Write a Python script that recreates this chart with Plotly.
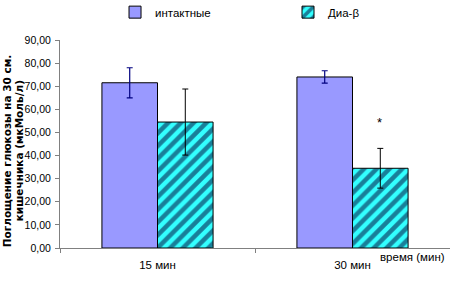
import plotly.graph_objects as go

categories = ["15 мин", "30 мин"]
intact_vals = [71.5, 74.0]
intact_err = [6.5, 2.7]
dia_vals = [54.5, 34.5]
dia_err = [14.3, 8.6]
y_ticks = [0, 10, 20, 30, 40, 50, 60, 70, 80, 90]
y_title_lines = ["Поглощение глюкозы на 30 см.", "кишечника (мкМоль/л)"]

FONT = "Liberation Sans, Arial"

fig = go.Figure()
fig.add_trace(go.Bar(
    x=categories, y=intact_vals, name="интактные",
    marker=dict(color="#9999FF", line=dict(color="black", width=1)),
    error_y=dict(type="data", array=intact_err, color="#000080", thickness=1.2, width=3),
    legend="legend",
))
fig.add_trace(go.Bar(
    x=categories, y=dia_vals, name="Диа-β",
    marker=dict(color="#33FFFF", line=dict(color="black", width=1),
                pattern=dict(shape="/", bgcolor="#33FFFF", fgcolor="#000033",
                             size=9, solidity=0.5, fillmode="overlay")),
    error_y=dict(type="data", array=dia_err, color="black", thickness=1, width=3),
    legend="legend2",
))

fig.add_annotation(x=categories[1], y=dia_vals[1] + dia_err[1], xshift=27, yshift=26,
                   text="*", showarrow=False, font=dict(size=13, color="black", family=FONT))
fig.add_annotation(xref="paper", yref="paper", x=1, y=0, xanchor="right", yanchor="top",
                   xshift=-3, yshift=-1, text="время (мин)", showarrow=False,
                   font=dict(size=11.5, color="black", family=FONT))
for i, line in enumerate(y_title_lines):
    fig.add_annotation(xref="paper", yref="paper", x=0, y=0.465, xanchor="center",
                       yanchor="middle", xshift=-53 + 12 * i, textangle=-90,
                       text=line, showarrow=False,
                       font=dict(size=10.5, color="black", family="DejaVu Sans", weight="bold"))

fig.update_layout(
    width=450, height=282,
    margin=dict(l=60, r=0, t=40, b=34, autoexpand=False),
    paper_bgcolor="white", plot_bgcolor="white",
    barmode="group", bargap=0.43, bargroupgap=0,
    separators=", ",
    font=dict(family=FONT, size=11.5, color="black"),
    legend=dict(orientation="h", xref="container", yref="container",
                x=0.2556, y=0.957, xanchor="left", yanchor="middle",
                font=dict(size=11.5, family=FONT), bgcolor="rgba(0,0,0,0)"),
    legend2=dict(orientation="h", xref="container", yref="container",
                 x=0.64, y=0.957, xanchor="left", yanchor="middle",
                 font=dict(size=11.5, family=FONT), bgcolor="rgba(0,0,0,0)"),
    xaxis=dict(showline=True, linecolor="#808080", linewidth=1, ticks="outside",
               tickson="boundaries", ticklen=4, tickcolor="#808080",
               ticklabelstandoff=6, showgrid=False, automargin=False,
               tickfont=dict(size=11.5, family=FONT)),
    yaxis=dict(range=[0, 90], tickvals=y_ticks, tickformat=".2f",
               showline=True, linecolor="#808080", linewidth=1, ticks="outside",
               ticklen=4, tickcolor="#808080", showgrid=False, zeroline=False,
               automargin=False, ticklabelstandoff=2,
               tickfont=dict(size=10.5, family=FONT)),
    showlegend=True,
)

fig.write_html("out.html", post_script="document.body.style.margin='0';",
               config={"displayModeBar": False})
